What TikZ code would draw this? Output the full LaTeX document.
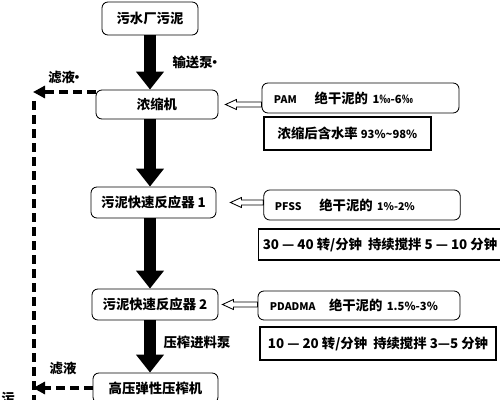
\documentclass[tikz,border=0pt]{standalone}
\usepackage{fontspec}
\usetikzlibrary{arrows.meta,calc,positioning}
\newfontfamily\cjk{Noto Sans CJK SC}

% hollow side arrow: #1 dosing box (tail), #2 process box (head), #3 gap
\newcommand{\hollowarrow}[3]{%
  \coordinate (tip) at ($(#2.east)+(#3,0)$);
  \draw[hollow] (tip) -- ++(11,-5) -- ++(0,2.5) -- ($(#1.west |- tip)+(0,-2.5)$)
    -- ($(#1.west |- tip)+(0,2.5)$) -- ($(tip)+(11,2.5)$) -- ++(0,2.5) -- cycle;}

\begin{document}
\begin{tikzpicture}[
    x=0.025cm, y=-0.025cm,
    font=\cjk\bfseries\fontsize{9.5}{11}\selectfont,
    process/.style={draw, line width=0.6pt, rounded corners=0.15cm, align=center},
    dose/.style={draw, line width=0.6pt, rounded corners=0.15cm, minimum height=0.75cm, inner xsep=0.3cm, align=left},
    cond/.style={draw, line width=0.9pt, minimum height=0.8cm, align=center},
    flow/.style={line width=0.3cm, -{Triangle[length=0.45cm, width=0.675cm]}},
    filtrate/.style={line width=2.6pt, dash pattern=on 0.22cm off 0.13cm},
    hollow/.style={line width=0.6pt, fill=white}
]
\useasboundingbox (0,0) rectangle (500,400);

% main line
\node (src)   [process, minimum width=2.4cm, minimum height=0.825cm] at (150,18.5) {污水厂污泥};
\node (thick) [process, minimum width=3.05cm, minimum height=0.725cm] at (157,104.5) {浓缩机};
\node (r1)    [process, minimum width=3.125cm, minimum height=0.775cm] at (153.5,202.5) {污泥快速反应器 1};
\node (r2)    [process, minimum width=3.15cm, minimum height=0.775cm] at (155,304.5) {污泥快速反应器 2};
\node (press) [process, minimum width=3.125cm, minimum height=0.75cm] at (155.5,388) {高压弹性压榨机};

% dosing and conditions
\node (pam)    [dose, text width=4.325cm] at (360.5,98)
    {{\fontsize{7.5}{9}\selectfont PAM}\quad\ 绝干泥的 {\fontsize{8}{9}\selectfont 1‰-6‰}};
\node (water)  [cond, minimum width=4.175cm, minimum height=0.825cm] at (347.5,133.5)
    {浓缩后含水率 {\fontsize{8}{9}\selectfont 93\%\textasciitilde98\%}};
\node (pfss)   [dose, text width=4.35cm, inner xsep=0.28cm] at (362,205)
    {{\fontsize{7.5}{9}\selectfont PFSS}\quad\ 绝干泥的 {\fontsize{7.5}{9}\selectfont 1\%-2\%}};
\node (speed1) [cond, minimum width=5.9cm, minimum height=0.775cm] at (380,244.5)
    {30 — 40 转/分钟~~持续搅拌 5 — 10 分钟};
\node (pdadma) [dose, text width=4.45cm, minimum height=0.725cm, inner xsep=0.3cm] at (359,305.5)
    {{\fontsize{7.5}{9}\selectfont PDADMA}\quad 绝干泥的 {\fontsize{8}{9}\selectfont 1.5\%-3\%}};
\node (speed2) [cond, minimum width=5.9cm, minimum height=0.825cm] at (378,343.5)
    {10 — 20 转/分钟~~持续搅拌 3—5 分钟};

% labels
\node (pump1) at (197,62) {输送泵\kern-0.35em·};
\node (pump2) at (197,342) {压榨进料泵};
\node (filt1) at (66,77) {滤液\kern-0.35em·};
\node (filt2) at (63,368) {滤液};
\node (out)   at (8,398) {污};

% sludge flow
\draw[flow] (src.south) -- (thick.north -| src.south);
\draw[flow] (thick.south -| src.south) -- (r1.north -| src.south);
\draw[flow] (r1.south -| src.south) -- (r2.north -| src.south);
\draw[flow] (r2.south -| src.south) -- (press.north -| src.south);

% dosing
\hollowarrow{pam}{thick}{7}
\hollowarrow{pfss}{r1}{14}
\hollowarrow{pdadma}{r2}{4}

% filtrate return
\coordinate (ret)    at (33,92);
\coordinate (rettop) at (34,101);
\coordinate (retbot) at (34,410);
\draw[filtrate] (rettop) -- (retbot);
\draw[filtrate, -{Triangle[length=0.3cm, width=0.3cm]}] (ret -| thick.west) -- (ret);
\draw[filtrate, -{Triangle[length=0.3cm, width=0.3cm]}] (press.west) -- (press.west -| ret);

\end{tikzpicture}
\end{document}
